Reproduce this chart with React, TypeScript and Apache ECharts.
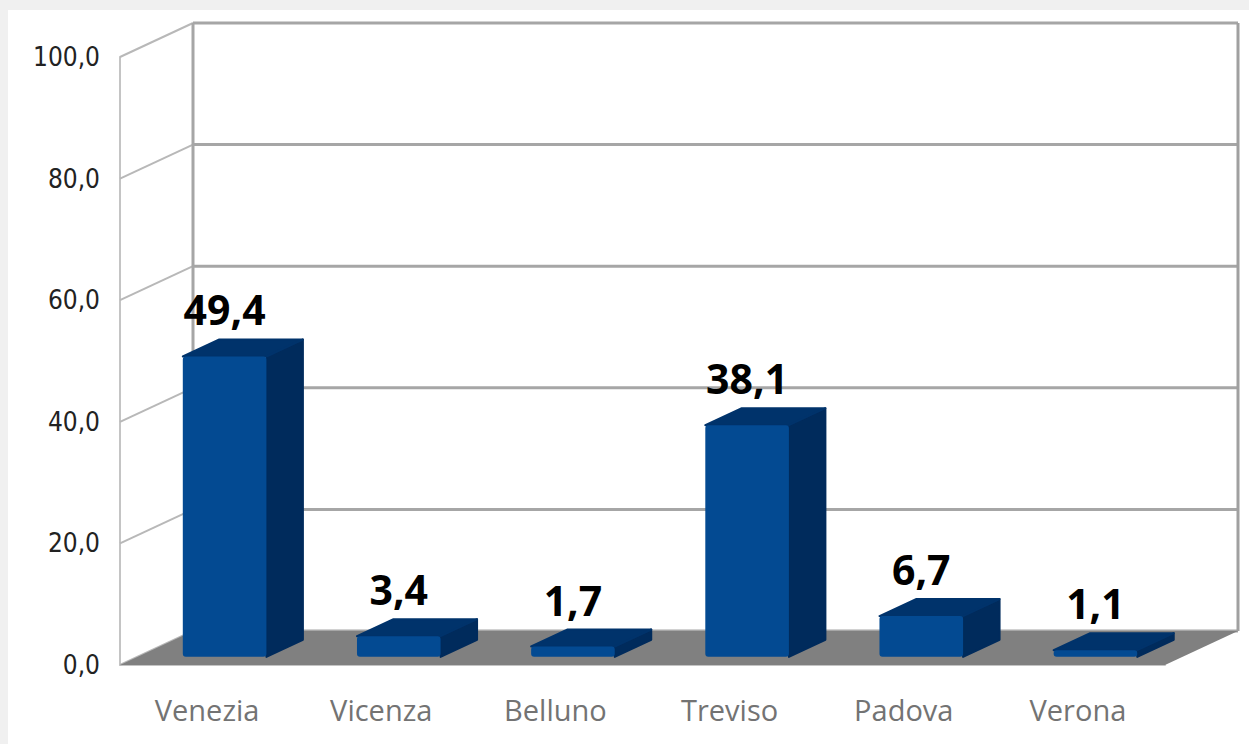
import React, { useEffect, useRef } from "react";
import * as echarts from "echarts";

const categories = ["Venezia", "Vicenza", "Belluno", "Treviso", "Padova", "Verona"];
const values = [49.4, 3.4, 1.7, 38.1, 6.7, 1.1];
const yTicks = [0, 20, 40, 60, 80, 100];

const DX = 73;
const DY = -34;
const F0 = 0.24;
const F1 = 0.74;

const fmt = (v: number) => v.toFixed(1).replace(".", ",");

export default function App() {
  const ref = useRef<HTMLDivElement>(null);
  useEffect(() => {
    if (!ref.current) return;
    const chart = echarts.init(ref.current, undefined, { renderer: "svg" });
    const yMax = yTicks[yTicks.length - 1];
    const option: any = {
      animation: false,
      backgroundColor: "#ffffff",
      graphic: [
        { type: "rect", shape: { x: 0, y: 0, width: 1249, height: 10 }, style: { fill: "#f0f0f0" } },
        { type: "rect", shape: { x: 0, y: 0, width: 8, height: 744 }, style: { fill: "#f0f0f0" } },
      ],
      grid: { left: 120, right: 84, top: 57, bottom: 79, containLabel: false },
      xAxis: {
        type: "category",
        data: categories,
        axisLine: { show: true, lineStyle: { color: "#c4c4c4", width: 2 } },
        axisTick: { show: false },
        axisLabel: {
          margin: 30,
          fontFamily: "Open Sans",
          fontSize: 29,
          color: "#737373",
        },
      },
      yAxis: {
        type: "value",
        min: yTicks[0],
        max: yMax,
        interval: yTicks[1] - yTicks[0],
        axisLine: { show: true, lineStyle: { color: "#c4c4c4", width: 2 } },
        axisTick: { show: false },
        splitLine: { show: false },
        axisLabel: {
          margin: 20,
          fontFamily: "DejaVu Sans Condensed, Liberation Sans Narrow, sans-serif",
          fontSize: 26,
          color: "#222222",
          padding: [6, 0, 0, 0],
          formatter: (v: number) => fmt(v),
        },
      },
      series: [
        {
          type: "custom",
          name: "walls",
          clip: false,
          z: 1,
          silent: true,
          data: yTicks.map((t) => [0, t]),
          encode: { x: 0, y: 1 },
          renderItem: (params: any, api: any) => {
            const cs = params.coordSys;
            const y = api.coord([0, api.value(1)])[1];
            const x0 = cs.x;
            const x1 = cs.x + cs.width;
            return {
              type: "group",
              children: [
                {
                  type: "line",
                  shape: { x1: x0, y1: y, x2: x0 + DX, y2: y + DY },
                  style: { stroke: "#b8b8b8", lineWidth: 2 },
                },
                {
                  type: "line",
                  shape: { x1: x0 + DX, y1: y + DY, x2: x1 + DX, y2: y + DY },
                  style: { stroke: "#a6a6a6", lineWidth: 3 },
                },
              ],
            };
          },
        },
        {
          type: "custom",
          name: "floor",
          clip: false,
          z: 2,
          silent: true,
          data: [[0, yTicks[0]]],
          encode: { x: 0, y: 1 },
          renderItem: (params: any, api: any) => {
            const cs = params.coordSys;
            const y0 = api.coord([0, yTicks[0]])[1];
            const yT = api.coord([0, yMax])[1];
            const x0 = cs.x;
            const x1 = cs.x + cs.width;
            return {
              type: "group",
              children: [
                {
                  type: "line",
                  shape: { x1: x0 + DX, y1: yT + DY, x2: x0 + DX, y2: y0 + DY },
                  style: { stroke: "#a6a6a6", lineWidth: 3 },
                },
                {
                  type: "line",
                  shape: { x1: x1 + DX, y1: yT + DY, x2: x1 + DX, y2: y0 + DY },
                  style: { stroke: "#a0a0a0", lineWidth: 3 },
                },
                {
                  type: "polygon",
                  shape: {
                    points: [
                      [x0, y0],
                      [x1, y0],
                      [x1 + DX, y0 + DY],
                      [x0 + DX, y0 + DY],
                    ],
                  },
                  style: { fill: "#808080" },
                },
              ],
            };
          },
        },
        {
          type: "custom",
          name: "bars",
          clip: false,
          z: 3,
          data: values.map((v, i) => [i, v]),
          encode: { x: 0, y: 1 },
          renderItem: (params: any, api: any) => {
            const i = api.value(0);
            const v = api.value(1);
            const top = api.coord([i, v]);
            const base = api.coord([i, 0]);
            const band = api.size([1, 0])[0];
            const hw = band * 0.24;
            const fx0 = DX * F0, fy0 = DY * F0, fx1 = DX * F1, fy1 = DY * F1;
            const xl = top[0] - hw + fx0, xr = top[0] + hw + fx0;
            const yt = top[1] + fy0, yb = base[1] + fy0;
            const bxl = top[0] - hw + fx1, bxr = top[0] + hw + fx1;
            const byt = top[1] + fy1, byb = base[1] + fy1;
            return {
              type: "group",
              children: [
                {
                  type: "polygon",
                  shape: { points: [[xr, yt], [bxr, byt], [bxr, byb], [xr, yb]] },
                  style: { fill: "#002b5c", stroke: "#002b5c", lineWidth: 2, lineJoin: "round" },
                },
                {
                  type: "polygon",
                  shape: { points: [[xl, yt], [bxl, byt], [bxr, byt], [xr, yt]] },
                  style: { fill: "#00336b", stroke: "#00336b", lineWidth: 2, lineJoin: "round" },
                },
                {
                  type: "rect",
                  shape: { x: xl, y: yt, width: xr - xl, height: Math.max(yb - yt, 1), r: 3 },
                  style: { fill: "#034a92" },
                },
                {
                  type: "text",
                  style: {
                    text: fmt(v),
                    x: (xl + xr) / 2,
                    y: byt - 30,
                    align: "center",
                    verticalAlign: "middle",
                    fontFamily: "Noto Sans",
                    fontWeight: "bold",
                    fontSize: 41,
                    fill: "#000000",
                  },
                },
              ],
            };
          },
        },
      ],
    };
    chart.setOption(option);
    return () => chart.dispose();
  }, []);
  return (
    <div
      ref={ref}
      style={{ position: "fixed", left: 0, top: 0, width: 1249, height: 744 }}
    />
  );
}
